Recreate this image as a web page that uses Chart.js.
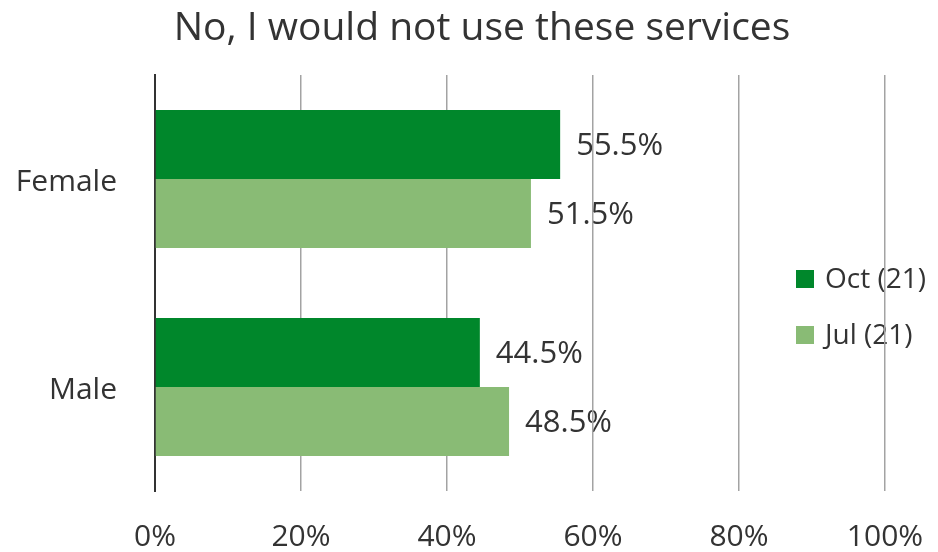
<!DOCTYPE html>
<html>
<head>
<meta charset="utf-8">
<script src="https://cdn.jsdelivr.net/npm/chart.js@4/dist/chart.umd.min.js"></script>
<style>
  body { margin: 0; background: #fff; }
  canvas { display: block; }
</style>
</head>
<body>
<canvas id="chart" width="938" height="552"></canvas>
<script>
const chartTitle = 'No, I would not use these services';
const genders = ['Female', 'Male'];
const seriesNames = ['Oct (21)', 'Jul (21)'];
const octValues = [55.5, 44.5];
const julValues = [51.5, 48.5];
const tickValues = [0, 20, 40, 60, 80, 100];

const FONT = '"Open Sans", Lato, sans-serif';
const TEXT = '#333333';
const colors = ['#00872B', '#89BB75'];

// title, value labels and legend are painted before the scales,
// so the grid lines run across them like in the original deck
const overlay = {
    id: 'overlay',
    beforeDraw(chart) {
        const ctx = chart.ctx;
        ctx.save();
        ctx.fillStyle = TEXT;

        ctx.font = '39px ' + FONT;
        ctx.textAlign = 'center';
        ctx.textBaseline = 'middle';
        ctx.fillText(chartTitle, 482, 29);

        ctx.font = '31px ' + FONT;
        ctx.textAlign = 'left';
        chart.data.datasets.forEach((ds, i) => {
            chart.getDatasetMeta(i).data.forEach((bar, j) => {
                ctx.fillText(ds.data[j].toFixed(1) + '%', bar.x + 16, bar.y + 2);
            });
        });

        // legend
        ctx.font = '28px ' + FONT;
        seriesNames.forEach((name, i) => {
            const y = 279 + i * 56;
            ctx.fillStyle = colors[i];
            ctx.fillRect(796, y - 9, 18, 18);
            ctx.fillStyle = TEXT;
            ctx.fillText(name, 825, y + 1);
        });
        ctx.restore();
    }
};

new Chart(document.getElementById('chart'), {
    type: 'bar',
    data: {
        labels: genders,
        datasets: [
            { label: seriesNames[0], data: octValues, backgroundColor: colors[0] },
            { label: seriesNames[1], data: julValues, backgroundColor: colors[1] }
        ]
    },
    options: {
        indexAxis: 'y',
        responsive: false,
        animation: false,
        categoryPercentage: 0.663,
        barPercentage: 1.0,
        layout: { padding: { top: 75, right: 53, bottom: 0, left: 0 } },
        plugins: {
            legend: { display: false },
            title: { display: false },
            tooltip: { enabled: false }
        },
        scales: {
            x: {
                min: 0,
                max: 100,
                afterBuildTicks: axis => { axis.ticks = tickValues.map(v => ({ value: v })); },
                afterFit: axis => {
                    axis.height = 61;
                    axis.paddingLeft = 0;
                    axis.paddingRight = 0;
                },
                grid: { color: '#a3a3a3', lineWidth: 1.5, drawTicks: false },
                border: { display: false },
                ticks: {
                    padding: 28,
                    color: TEXT,
                    font: { family: FONT, size: 30 },
                    callback: v => v + '%'
                }
            },
            y: {
                afterFit: axis => { axis.width = 155; },
                grid: { display: false, drawTicks: false },
                border: { color: '#333333', width: 2 },
                ticks: {
                    padding: 38,
                    labelOffset: 3,
                    color: TEXT,
                    font: { family: FONT, size: 30 }
                }
            }
        }
    },
    plugins: [overlay]
});
</script>
</body>
</html>
